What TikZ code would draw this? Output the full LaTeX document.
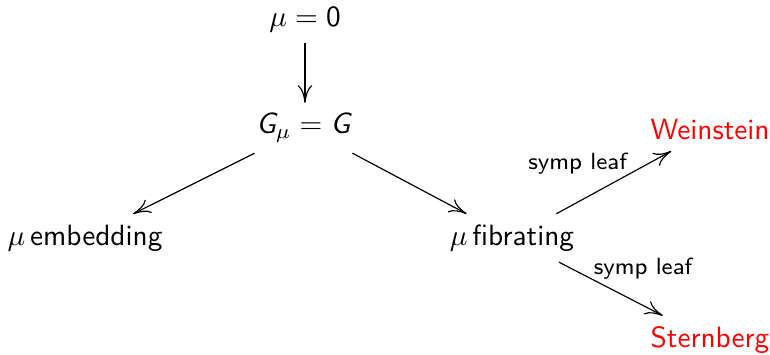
\documentclass[tikz,border=0pt]{standalone}
\usetikzlibrary{arrows.meta, positioning}
% sans letters and digits in math, as on a slide
\DeclareSymbolFont{sfletters}{OT1}{cmss}{m}{sl}
\DeclareSymbolFont{sfdigits}{OT1}{cmss}{m}{n}
\DeclareMathSymbol{G}{\mathalpha}{sfletters}{`G}
\DeclareMathSymbol{0}{\mathalpha}{sfdigits}{`0}
\tikzset{
    item/.style={
        font=\sffamily,
        inner sep=3.5pt
    },
    goal/.style={
        item,
        text=red
    },
    tag/.style={
        font=\sffamily\footnotesize,
        inner sep=0pt
    },
    arrow/.style={
        -{To[length=6pt, width=5pt]}
    }
}

\begin{document}
\begin{tikzpicture}[x=0.012cm, y=0.012cm]
\useasboundingbox (0,0) rectangle (770,355);

\node (zero) [item] at (305,335) {$\mu = 0$};
\node (group) [item] at (305,227) {$G_\mu = G$};
\node (embed) [item] at (85,117) {$\mu\,$embedding};
\node (fibr) [item] at (512,117) {$\mu\,$fibrating};
\node (wein) [goal] at (710,225) {Weinstein};
\node (stern) [goal] at (710,15) {Sternberg};

\draw [arrow] (zero) -- (group);
\draw [arrow] (group) -- (embed);
\draw [arrow] (group) -- (fibr);
\draw [arrow] (fibr) -- node[tag, pos=0.62, above left] {symp leaf} (wein);
\draw [arrow] (fibr) -- node[tag, pos=0.33, above right] {symp leaf} (stern);

\end{tikzpicture}
\end{document}
